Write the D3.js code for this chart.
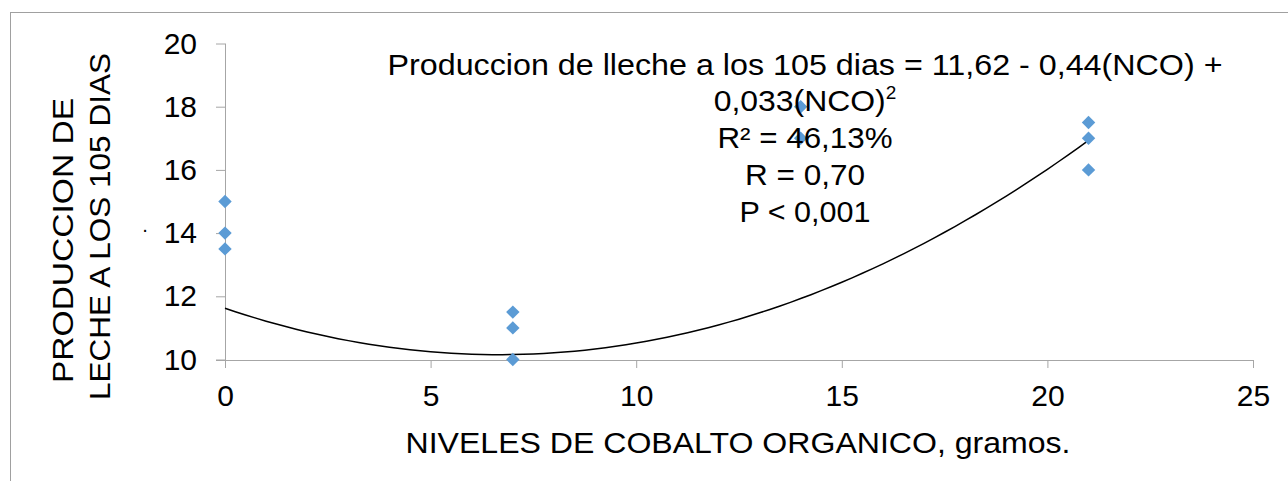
<!DOCTYPE html>
<html><head><meta charset="utf-8">
<script src="https://cdn.jsdelivr.net/npm/d3@7"></script>
<style>body{margin:0;background:#fff}svg{display:block;font-family:"Liberation Sans",Arial,sans-serif}</style>
</head><body>
<svg id="c" width="1288" height="481"></svg>
<script>
const xValues = [0, 0, 0, 7, 7, 7, 14, 14, 21, 21, 21];
const yValues = [15, 14, 13.5, 11.5, 11, 10, 18, 17, 17.5, 17, 16];
const xTicks = [0, 5, 10, 15, 20, 25];
const yTicks = [10, 12, 14, 16, 18, 20];
const coef = [11.62, -0.44, 0.033];
const annotation = ["Produccion de lleche a los 105 dias  = 11,62 - 0,44(NCO) +", "0,033(NCO)", "R² = 46,13%", "R = 0,70", "P < 0,001"];
const xTitle = "NIVELES DE COBALTO ORGANICO, gramos.";
const yTitle = ["PRODUCCION DE", "LECHE  A LOS 105 DIAS"];

const svg = d3.select("#c");
const axisColor = "#a6a6a6";
svg.append("rect").attr("x",10.5).attr("y",12.5).attr("width",1300).attr("height",500)
  .attr("fill","none").attr("stroke","#a0a0a0").attr("stroke-width",1);

const x = d3.scaleLinear().domain([0,25]).range([225,1253]);
const y = d3.scaleLinear().domain([10,20]).range([359.5,43.5]);

// y axis
const ya = svg.append("g").attr("transform","translate(225,0)")
  .call(d3.axisLeft(y).tickValues(yTicks).tickSize(9).tickPadding(19).tickFormat(d3.format("d")));
ya.select(".domain").attr("stroke",axisColor).attr("d","M0.5,43.5V368");
ya.selectAll(".tick line").attr("stroke",axisColor);
ya.selectAll(".tick text").attr("font-size",30).attr("fill","#000").attr("font-family","Liberation Sans, Arial");

// x axis
const xa = svg.append("g").attr("transform","translate(0,360)")
  .call(d3.axisBottom(x).tickValues(xTicks).tickSize(8).tickPadding(17).tickFormat(d3.format("d")));
xa.select(".domain").attr("stroke",axisColor).attr("d","M216,0.5H1253.5");
xa.selectAll(".tick line").attr("stroke",axisColor);
xa.selectAll(".tick text").attr("font-size",30).attr("fill","#000").attr("font-family","Liberation Sans, Arial");

// trend curve
const curvePts = d3.range(0, 21.001, 0.25).map(v => [v, coef[0] + coef[1]*v + coef[2]*v*v]);
svg.append("path").datum(curvePts)
  .attr("d", d3.line().x(d=>x(d[0])).y(d=>y(d[1])))
  .attr("fill","none").attr("stroke","#000").attr("stroke-width",1.5);

// markers
svg.selectAll(".pt").data(xValues.map((v,i)=>[v,yValues[i]])).enter()
  .append("path").attr("class","pt")
  .attr("transform", d=>`translate(${x(d[0])},${y(d[1])})`)
  .attr("d", d3.symbol().type(d3.symbolDiamond2).size(115))
  .attr("fill","#5b9bd5");

// annotation
const ann = svg.append("g").attr("font-size",29).attr("fill","#000").attr("text-anchor","middle")
  .style("white-space","pre");
const baselines = [75, 111, 148, 185, 222];
const widths = [835, 172, 175, 120, 131];
annotation.forEach((t,i)=>{
  if(i===1){
    const tx = ann.append("text").attr("x",805).attr("y",baselines[i]);
    tx.append("tspan").attr("textLength",widths[i]).attr("lengthAdjust","spacingAndGlyphs").text(t);
    tx.append("tspan").attr("font-size",19).attr("dy",-12).text("2");
  } else {
    ann.append("text").attr("x",805).attr("y",baselines[i])
      .attr("textLength",widths[i]).attr("lengthAdjust","spacingAndGlyphs").text(t);
  }
});

// x title
svg.append("text").attr("x",738).attr("y",453).attr("text-anchor","middle")
  .attr("font-size",29).attr("textLength",665).attr("lengthAdjust","spacingAndGlyphs").text(xTitle);

// y title
const yt = svg.append("g").attr("font-size",29).attr("text-anchor","middle").style("white-space","pre");
yt.append("text").attr("transform","translate(73,240.5) rotate(-90)")
  .attr("textLength",285).attr("lengthAdjust","spacingAndGlyphs").text(yTitle[0]);
yt.append("text").attr("transform","translate(110,226.5) rotate(-90)")
  .attr("textLength",347).attr("lengthAdjust","spacingAndGlyphs").text(yTitle[1]);
svg.append("text").attr("x",145).attr("y",236).attr("font-size",20).attr("text-anchor","middle").text("·");
</script>
</body></html>
